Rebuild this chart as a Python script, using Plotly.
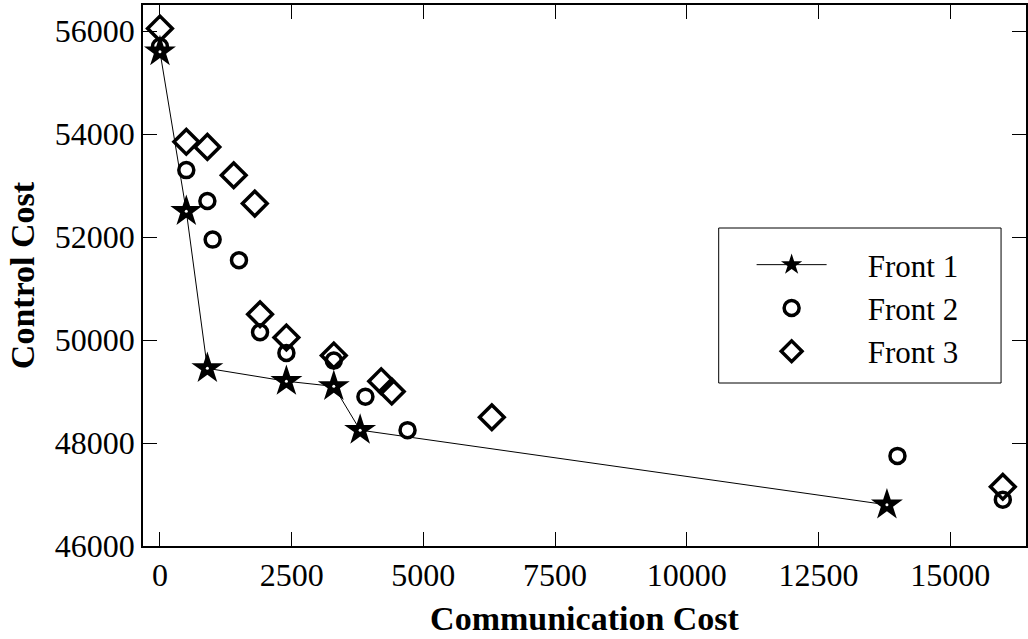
import plotly.graph_objects as go

# Front 1 (Pareto front, stars connected by line)
f1_comm = [0, 500, 900, 2400, 3300, 3800, 13800]
f1_ctrl = [55600, 52500, 49450, 49200, 49100, 48250, 46800]

# Front 2 (open circles)
f2_comm = [0, 500, 900, 1000, 1500, 1900, 2400, 3300, 3900, 4700, 14000, 16000]
f2_ctrl = [55700, 53300, 52700, 51950, 51550, 50150, 49750, 49600, 48900, 48250, 47750, 46900]

# Front 3 (open diamonds)
f3_comm = [0, 500, 900, 1400, 1800, 1900, 2400, 3300, 4200, 4400, 6300, 16000]
f3_ctrl = [56050, 53850, 53750, 53200, 52650, 50500, 50050, 49700, 49200, 49000, 48500, 47150]

x_ticks = [0, 2500, 5000, 7500, 10000, 12500, 15000]
y_ticks = [46000, 48000, 50000, 52000, 54000, 56000]

FONT = "Liberation Serif"
PAD = "\u2002\u2002\u2006"

fig = go.Figure()
fig.add_trace(go.Scatter(
    x=f3_comm, y=f3_ctrl, mode="markers", name=PAD + "Front 3",
    marker=dict(symbol="diamond-open", size=19, color="black", line=dict(width=3.5, color="black")),
))
fig.add_trace(go.Scatter(
    x=f2_comm, y=f2_ctrl, mode="markers", name=PAD + "Front 2",
    marker=dict(symbol="circle-open", size=15, color="black", line=dict(width=3.5, color="black")),
))
fig.add_trace(go.Scatter(
    x=f1_comm, y=f1_ctrl, mode="lines+markers", name=PAD + "Front 1",
    line=dict(color="black", width=1),
    marker=dict(symbol="star", size=24, color="black", line=dict(width=0)),
))
fig.add_trace(go.Scatter(
    x=f1_comm, y=f1_ctrl, mode="markers", showlegend=False, hoverinfo="skip",
    marker=dict(symbol="circle", size=3, color="white"),
))

axis_common = dict(
    showgrid=False, zeroline=False, showline=True, linecolor="black", linewidth=1.5,
    mirror="ticks", ticks="inside", ticklen=14, tickwidth=1, tickcolor="black",
    tickfont=dict(family=FONT, size=32, color="black"),
)

PL, PR, PT, PB = 143, 1028, 5, 546
fig.update_layout(
    width=1028, height=639,
    margin=dict(l=PL, r=1028 - PR, t=PT, b=639 - PB),
    paper_bgcolor="white", plot_bgcolor="white",
    font=dict(family=FONT, color="black"),
    xaxis=dict(range=[-322, 16440], tickvals=x_ticks, ticktext=[str(v) for v in x_ticks],
               title=dict(text="<b>Communication Cost</b>", font=dict(family=FONT, size=34), standoff=14),
               **axis_common),
    yaxis=dict(range=[46000, 56506], tickvals=y_ticks, ticktext=[str(v) for v in y_ticks],
               title=dict(text="<b>Control Cost</b>", font=dict(family=FONT, size=34), standoff=10),
               **axis_common),
    legend=dict(
        x=(753 - PL) / (PR - PL), y=(PB - 238) / (PB - PT), xanchor="left", yanchor="top",
        traceorder="reversed", itemwidth=70,
        font=dict(family=FONT, size=31, color="black"),
        borderwidth=0, bgcolor="rgba(0,0,0,0)",
    ),
    shapes=[dict(type="rect", xref="paper", yref="paper",
                 x0=(720 - PL) / (PR - PL), x1=(1003 - PL) / (PR - PL),
                 y0=(PB - 383) / (PB - PT), y1=(PB - 228) / (PB - PT),
                 line=dict(color="black", width=1), fillcolor="white", layer="below")],
)

fig.write_html("out.html")
